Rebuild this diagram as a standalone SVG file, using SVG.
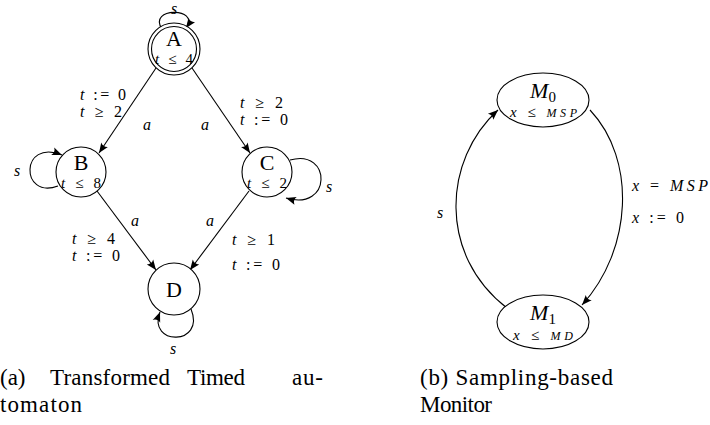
<svg xmlns="http://www.w3.org/2000/svg" width="710" height="425" viewBox="0 0 710 425" font-family="'Liberation Serif', 'DejaVu Serif', serif">
<defs>
<marker id="arr" markerUnits="userSpaceOnUse" markerWidth="14" markerHeight="12" viewBox="-11 -6 12 12" refX="0" refY="0" orient="auto">
<path d="M0,0 L-10,-4 Q-7,0 -10,4 Z" fill="#000"/>
</marker>
</defs>
<style>
.st{fill:#fff;stroke:#000;stroke-width:1.1}
.e{fill:none;stroke:#000;stroke-width:1.1;marker-end:url(#arr)}
text{font-family:'Liberation Serif','DejaVu Serif',serif;fill:#000}
.nm{font-size:22px}
.inv{font-size:15px}
.lb{font-size:16px}
.i{font-style:italic}
.cap{font-size:23px}
.sm{font-size:12px;font-style:italic}
</style>
<rect width="710" height="425" fill="#fff"/>
<g id="connectors">
<path class="e" d="M162,29 C147,7 201,7 186,28"/>
<path class="e" d="M58,186 C20,200 20,138 62,155"/>
<path class="e" d="M290,160 C332,148 332,212 286,198"/>
<path class="e" d="M191,309 C206,346 147,346 160,312"/>
<path class="e" d="M156,68 L99,153"/>
<path class="e" d="M192,68 L250,153"/>
<path class="e" d="M97,191 L156,270"/>
<path class="e" d="M249,191 L190,270"/>
<path class="e" d="M590,110 C637,160 632,250 582,305"/>
<path class="e" d="M507,308 C438,255 443,160 498,110"/>
</g>
<g id="labels">
<text class="lb i" x="174" y="14" text-anchor="middle">s</text>
<text class="lb" x="80" y="100" textLength="46"><tspan class="i">t</tspan> := 0</text>
<text class="lb" x="80" y="117" textLength="42"><tspan class="i">t</tspan> ≥ 2</text>
<text class="lb i" x="143" y="130">a</text>
<text class="lb i" x="201" y="130">a</text>
<text class="lb" x="240" y="108" textLength="43"><tspan class="i">t</tspan> ≥ 2</text>
<text class="lb" x="240" y="125" textLength="48"><tspan class="i">t</tspan> := 0</text>
<text class="lb i" x="14" y="176">s</text>
<text class="lb i" x="326" y="192">s</text>
<text class="lb i" x="131" y="226">a</text>
<text class="lb i" x="206" y="226">a</text>
<text class="lb" x="72" y="244" textLength="43"><tspan class="i">t</tspan> ≥ 4</text>
<text class="lb" x="72" y="261" textLength="48"><tspan class="i">t</tspan> := 0</text>
<text class="lb" x="232" y="245" textLength="43"><tspan class="i">t</tspan> ≥ 1</text>
<text class="lb" x="232" y="270" textLength="48"><tspan class="i">t</tspan> := 0</text>
<text class="lb i" x="170" y="354">s</text>
<text class="lb i" x="437" y="218">s</text>
<text class="lb" x="632" y="191" textLength="76"><tspan class="i">x</tspan> = <tspan class="i">MSP</tspan></text>
<text class="lb" x="632" y="223" textLength="52"><tspan class="i">x</tspan> := 0</text>
</g>
<g id="A">
<circle class="st" cx="174" cy="49" r="26"/>
<circle class="st" cx="174" cy="49" r="22.5"/>
<text class="nm" x="174" y="46" text-anchor="middle">A</text>
<text class="inv" x="155" y="64" textLength="38"><tspan class="i">t</tspan> ≤ 4</text>
</g>
<g id="B">
<circle class="st" cx="81" cy="172" r="25"/>
<text class="nm" x="81" y="170" text-anchor="middle">B</text>
<text class="inv" x="61" y="188" textLength="40"><tspan class="i">t</tspan> ≤ 8</text>
</g>
<g id="C">
<circle class="st" cx="267" cy="172" r="25"/>
<text class="nm" x="267" y="170" text-anchor="middle">C</text>
<text class="inv" x="247" y="188" textLength="40"><tspan class="i">t</tspan> ≤ 2</text>
</g>
<g id="D">
<circle class="st" cx="174" cy="289" r="26"/>
<text class="nm" x="174" y="297" text-anchor="middle">D</text>
</g>
<g id="M0">
<ellipse class="st" cx="543" cy="100" rx="46" ry="27"/>
<text class="nm" x="543" y="98" text-anchor="middle"><tspan class="i">M</tspan><tspan font-size="15" dy="4">0</tspan></text>
<text class="inv" x="510" y="117" textLength="67"><tspan class="i">x</tspan> ≤ <tspan class="sm">MSP</tspan></text>
</g>
<g id="M1">
<ellipse class="st" cx="543" cy="322" rx="46" ry="27"/>
<text class="nm" x="543" y="320" textLength="26" text-anchor="middle"><tspan class="i">M</tspan><tspan font-size="15" dy="4">1</tspan></text>
<text class="inv" x="513" y="340" textLength="60"><tspan class="i">x</tspan> ≤ <tspan class="sm">MD</tspan></text>
</g>
<g id="captions">
<text class="cap" x="0" y="385">(a)</text>
<text class="cap" x="50" y="385" textLength="120">Transformed</text>
<text class="cap" x="187" y="385" textLength="58">Timed</text>
<text class="cap" x="292" y="385" textLength="31">au-</text>
<text class="cap" x="0" y="412" textLength="82">tomaton</text>
<text class="cap" x="420" y="385" textLength="193">(b) Sampling-based</text>
<text class="cap" x="420" y="412" textLength="72">Monitor</text>
</g>
</svg>
